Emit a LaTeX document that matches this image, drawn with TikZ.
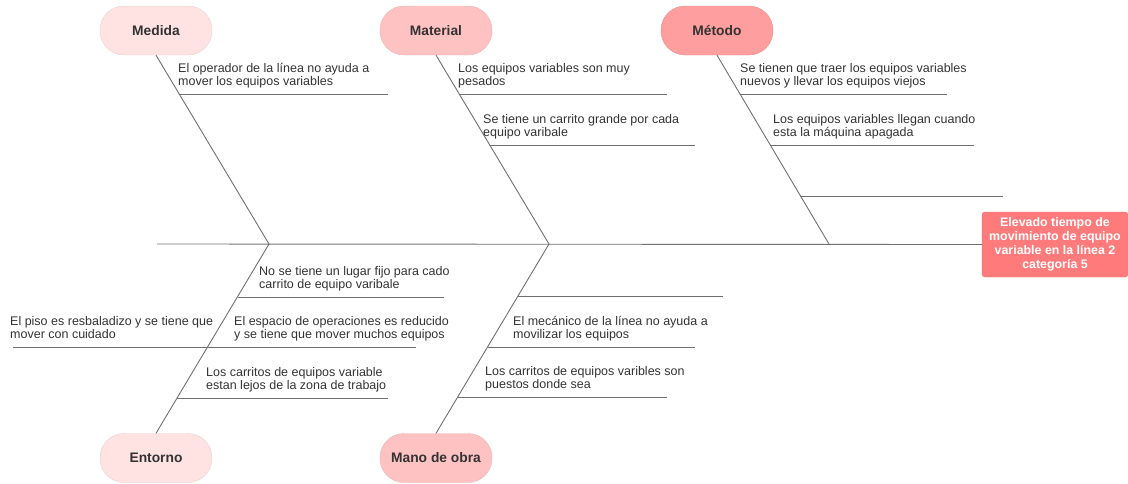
\documentclass[tikz,border=0pt]{standalone}
\usepackage{fontspec}
\setmainfont{Liberation Sans}
\definecolor{txt}{HTML}{333333}
\definecolor{ln}{HTML}{707070}
\definecolor{cA}{HTML}{FFE2E2}
\definecolor{cB}{HTML}{FFC2C2}
\definecolor{cC}{HTML}{FF9E9E}
\definecolor{cD}{HTML}{FF7B7B}
\newcommand\fstrut{\rule{0pt}{10pt}}
\begin{document}
\begin{tikzpicture}[x=1pt,y=-1pt,
  cat/.style={fill=#1, draw=#1!92!black, line width=0.4, rounded corners=24,
    minimum width=112, minimum height=49, inner sep=0,
    font=\fontsize{13.8}{16}\selectfont\bfseries, text=txt},
  effectbox/.style={fill=cD, draw=cD!92!black, line width=0.4, rounded corners=3,
    minimum width=146, minimum height=65, inner sep=0, align=center,
    font=\fontsize{12.4}{13.8}\selectfont\bfseries, text=white},
  bone/.style={draw=ln, line width=0.9},
  lbl/.style={anchor=north west, inner sep=0, align=left, text=txt,
    font=\fontsize{12.5}{13.2}\selectfont}]
\useasboundingbox (0,0) rectangle (1128,483);

% category boxes
\node[cat=cA] (medida) at (156,30.5) {Medida};
\node[cat=cB] (material) at (436,30.5) {Material};
\node[cat=cC] (metodo) at (717,30.5) {Método};
\node[cat=cA] (entorno) at (156,458) {Entorno};
\node[cat=cB] (mano) at (436,458) {Mano de obra};
\node[effectbox] (effect) at (1055,244.5) {Elevado tiempo de\\movimiento de equipo\\variable en la línea 2\\categoría 5};

% spine
\coordinate (tail) at (157,244);
\coordinate (j1) at (269,244);
\coordinate (j2) at (549,244);
\coordinate (j3) at (829,244);
\draw[bone] (tail) -- (effect.west);

% main bones
\draw[bone] (medida.south) -- (j1);
\draw[bone] (material.south) -- (j2);
\draw[bone] (metodo.south) -- (j3);
\draw[bone] (entorno.north) -- (j1);
\draw[bone] (mano.north) -- (j2);

% Medida
\coordinate (a1) at (178.8,94); \coordinate (a1e) at (388,94);
\draw[bone] (a1) -- (a1e);
\node[lbl] (ta1) at (178,62) {\fstrut El operador de la línea no ayuda a\\mover los equipos variables};

% Material
\coordinate (b1) at (458.8,94); \coordinate (b1e) at (667,94);
\draw[bone] (b1) -- (b1e);
\node[lbl] (tb1) at (458,62) {\fstrut Los equipos variables son muy\\pesados};
\coordinate (b2) at (489.5,145); \coordinate (b2e) at (695,145);
\draw[bone] (b2) -- (b2e);
\node[lbl] (tb2) at (483,113) {\fstrut Se tiene un carrito grande por cada\\equipo varibale};

% Metodo
\coordinate (c1) at (739.6,94); \coordinate (c1e) at (947,94);
\draw[bone] (c1) -- (c1e);
\node[lbl] (tc1) at (740,62) {\fstrut Se tienen que traer los equipos variables\\nuevos y llevar los equipos viejos};
\coordinate (c2) at (770,145); \coordinate (c2e) at (974,145);
\draw[bone] (c2) -- (c2e);
\node[lbl] (tc2) at (773,113) {\fstrut Los equipos variables llegan cuando\\esta la máquina apagada};
\coordinate (c3) at (800,196); \coordinate (c3e) at (1003,196);
\draw[bone] (c3) -- (c3e);

% Entorno
\coordinate (d1) at (237.5,297); \coordinate (d1e) at (444,297);
\draw[bone] (d1) -- (d1e);
\node[lbl] (td1) at (259,265) {\fstrut No se tiene un lugar fijo para cado\\carrito de equipo varibale};
\coordinate (d2) at (207.7,347); \coordinate (d2e) at (416,347);
\draw[bone] (d2) -- (d2e);
\node[lbl] (td2) at (234,315) {\fstrut El espacio de operaciones es reducido\\y se tiene que mover muchos equipos};
\coordinate (d3) at (177.4,398); \coordinate (d3e) at (388,398);
\draw[bone] (d3) -- (d3e);
\node[lbl] (td3) at (206,366) {\fstrut Los carritos de equipos variable\\estan lejos de la zona de trabajo};
\coordinate (d4e) at (13,347);
\draw[bone] (d2) -- (d4e);
\node[lbl] (td4) at (10,315) {\fstrut El piso es resbaladizo y se tiene que\\mover con cuidado};

% Mano de obra
\coordinate (e1) at (518,296); \coordinate (e1e) at (723,296);
\draw[bone] (e1) -- (e1e);
\coordinate (e2) at (487.7,347); \coordinate (e2e) at (695,347);
\draw[bone] (e2) -- (e2e);
\node[lbl] (te2) at (513,315) {\fstrut El mecánico de la línea no ayuda a\\movilizar los equipos};
\coordinate (e3) at (458,397); \coordinate (e3e) at (667,397);
\draw[bone] (e3) -- (e3e);
\node[lbl] (te3) at (485,365) {\fstrut Los carritos de equipos varibles son\\puestos donde sea};
\end{tikzpicture}
\end{document}
